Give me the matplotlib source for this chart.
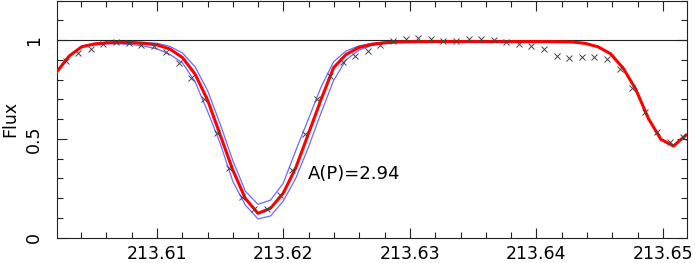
"""Light curve of a transit-like dip with model fit and envelope."""

import matplotlib

matplotlib.use("Agg")
import matplotlib.pyplot as plt
from matplotlib.ticker import FuncFormatter, MultipleLocator

# observed points (time, flux)
obs_time = [
    213.60278, 213.60378, 213.60477, 213.60577, 213.60676, 213.60776,
    213.60875, 213.60975, 213.61074, 213.61174, 213.61273, 213.61373,
    213.61472, 213.61572, 213.61672, 213.61771, 213.61871, 213.61970,
    213.62070, 213.62169, 213.62269, 213.62368, 213.62468, 213.62567,
    213.62667, 213.62766, 213.62866, 213.62965, 213.63065, 213.63164,
    213.63264, 213.63363, 213.63463, 213.63562, 213.63662, 213.63761,
    213.63861, 213.63960, 213.64060, 213.64159, 213.64259, 213.64359,
    213.64458, 213.64558, 213.64657, 213.64757, 213.64856, 213.64956,
    213.65055, 213.65155,
]
obs_flux = [
    0.894, 0.933, 0.954, 0.978, 0.991, 0.986, 0.975, 0.970, 0.941, 0.885,
    0.809, 0.700, 0.531, 0.351, 0.207, 0.144, 0.144, 0.216, 0.342, 0.525,
    0.700, 0.818, 0.887, 0.919, 0.946, 0.973, 0.993, 1.005, 1.009, 1.004,
    0.995, 0.995, 1.004, 1.004, 0.999, 0.991, 0.978, 0.970, 0.954, 0.919,
    0.910, 0.915, 0.915, 0.904, 0.853, 0.755, 0.638, 0.533, 0.483, 0.508,
]

# model grid (time, best-fit flux)
model_time = [
    213.60206, 213.60306, 213.60405, 213.60505, 213.60604, 213.60704,
    213.60803, 213.60903, 213.61002, 213.61102, 213.61201, 213.61301,
    213.61400, 213.61500, 213.61600, 213.61699, 213.61799, 213.61898,
    213.61998, 213.62097, 213.62197, 213.62296, 213.62396, 213.62495,
    213.62595, 213.62694, 213.62794, 213.62893, 213.62993, 213.63092,
    213.63192, 213.63291, 213.63391, 213.63490, 213.63590, 213.63689,
    213.63789, 213.63888, 213.63988, 213.64087, 213.64187, 213.64287,
    213.64386, 213.64486, 213.64585, 213.64685, 213.64784, 213.64884,
    213.64983, 213.65083, 213.65182,
]
model_flux = [
    0.837, 0.919, 0.966, 0.980, 0.986, 0.988, 0.987, 0.983, 0.975, 0.955,
    0.912, 0.828, 0.697, 0.520, 0.342, 0.198, 0.123, 0.149, 0.225, 0.353,
    0.525, 0.697, 0.860, 0.927, 0.962, 0.978, 0.986, 0.990, 0.991, 0.992,
    0.992, 0.992, 0.992, 0.992, 0.992, 0.992, 0.992, 0.992, 0.992, 0.992,
    0.991, 0.990, 0.983, 0.966, 0.931, 0.858, 0.752, 0.604, 0.498, 0.464,
    0.519,
]

# envelope models (first dip only)
env_time = model_time[:30]
env_deep = [
    0.837, 0.918, 0.964, 0.977, 0.981, 0.981, 0.977, 0.969, 0.955, 0.928,
    0.885, 0.790, 0.640, 0.477, 0.285, 0.165, 0.095, 0.110, 0.185, 0.300,
    0.457, 0.629, 0.795, 0.900, 0.948, 0.972, 0.982, 0.988, 0.990, 0.991,
]
env_shallow = [
    0.839, 0.921, 0.968, 0.983, 0.989, 0.991, 0.991, 0.988, 0.984, 0.968,
    0.935, 0.865, 0.745, 0.575, 0.390, 0.235, 0.169, 0.190, 0.275, 0.440,
    0.600, 0.760, 0.890, 0.945, 0.970, 0.983, 0.989, 0.992, 0.993, 0.993,
]

label_text = "A(P)=2.94"

plt.rcParams["font.family"] = ["DejaVu Sans"]
plt.rcParams["font.size"] = 12.5

fig = plt.figure(figsize=(6.95, 2.63), dpi=100)
ax = fig.add_axes([0.082, 0.0962, 0.9065, 0.9018])

ax.axhline(1.0, color="#222222", lw=0.8, zorder=1)
ax.plot(env_time, env_deep, color="#6a6aff", lw=0.9, zorder=2)
ax.plot(env_time, env_shallow, color="#6a6aff", lw=0.9, zorder=2)
ax.plot(model_time, model_flux, color="#ff0000", lw=2.2, zorder=3)
ax.plot(obs_time, obs_flux, ls="none", marker="x", ms=3.8, mew=0.7,
        color="#444444", zorder=4)

ax.text(213.62194, 0.295, label_text, ha="left", va="baseline", fontsize=13)

ax.set_xlim(213.6021, 213.6519)
ax.set_ylim(0, 1.2)

ax.xaxis.set_major_locator(MultipleLocator(0.01))
ax.xaxis.set_minor_locator(MultipleLocator(0.002))
ax.yaxis.set_major_locator(MultipleLocator(0.5))
ax.yaxis.set_minor_locator(MultipleLocator(0.1))
ax.xaxis.set_major_formatter(FuncFormatter(lambda v, _: f"{v:.2f}"))
ax.yaxis.set_major_formatter(FuncFormatter(lambda v, _: f"{v:g}"))

ax.tick_params(which="both", direction="in", top=True, right=True,
               width=0.8, color="#222222")
ax.tick_params(which="major", length=7)
ax.tick_params(which="minor", length=4)
ax.tick_params(axis="x", pad=5.5)
ax.tick_params(axis="y", pad=10, labelrotation=90)
for lab in ax.get_yticklabels():
    lab.set_va("center")

for spine in ax.spines.values():
    spine.set_linewidth(0.8)
    spine.set_color("#222222")

ax.set_ylabel("Flux")
ax.yaxis.set_label_coords(-0.060, 0.5)

fig.savefig("out.png", dpi=100)
